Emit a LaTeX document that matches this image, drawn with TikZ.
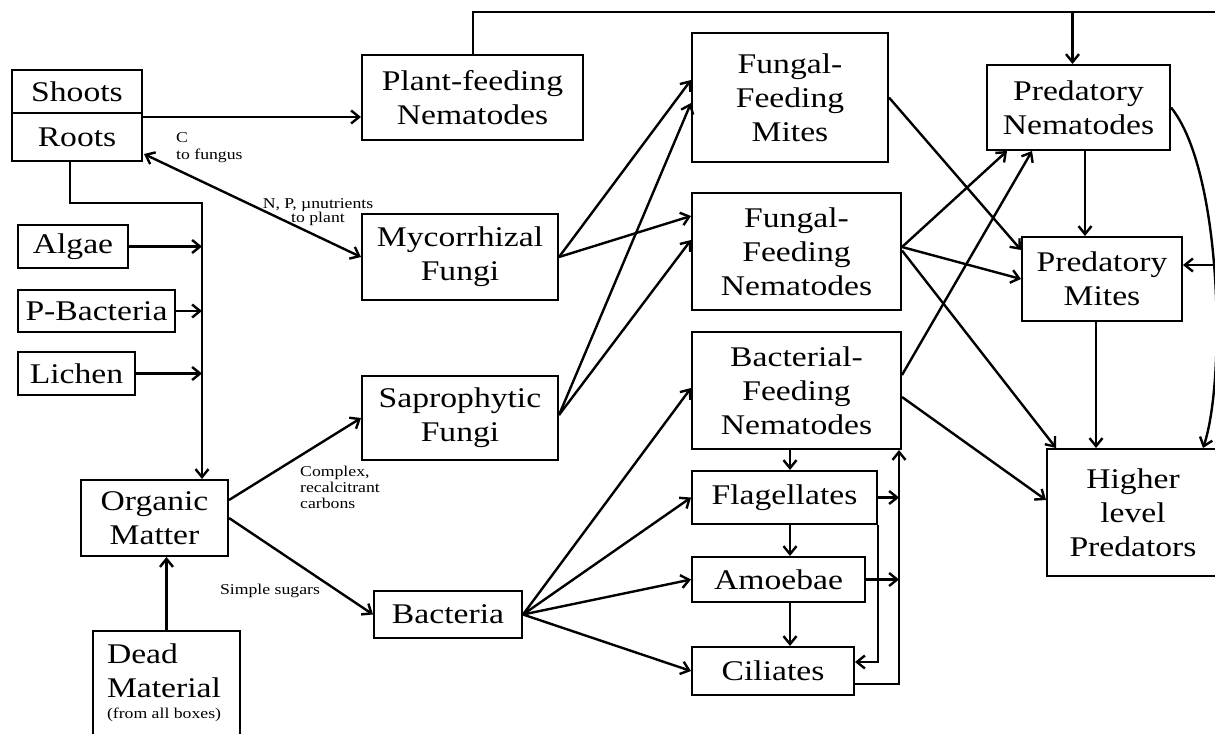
\documentclass[tikz,border=0pt]{standalone}
\usepackage{fontspec}
\setmainfont{Liberation Serif}[FakeStretch=1.18]
\usetikzlibrary{arrows.meta,calc}
\begin{document}
\begin{tikzpicture}[x=1pt,y=-1pt,
 box/.style={draw,line width=2pt,align=center,inner sep=0pt,font=\fontsize{28.5}{34}\selectfont},
 tip/.tip={Straight Barb[length=8pt,width=13pt,line width=2.4pt]},
 arr/.style={line width=2.4pt,-tip},
 arrb/.style={line width=2.4pt,tip-tip},
 ln/.style={line width=2pt},
 lab/.style={font=\fontsize{15}{16}\selectfont,align=left,inner sep=0pt}]

\useasboundingbox (0,0) rectangle (1215,734);
\fill[white] (0,0) rectangle (1215,734);

% boxes
\node[box,minimum width=130,minimum height=43] (shoots) at (77,91.5) {Shoots};
\node[box,minimum width=130,minimum height=48] (roots) at (77,137) {Roots};
\node[box,minimum width=221,minimum height=85] (pfn) at (472.5,97.5) {Plant-feeding\\Nematodes};
\node[box,minimum width=196,minimum height=129] (ffm) at (790,97.5) {Fungal-\\Feeding\\Mites};
\node[box,minimum width=209,minimum height=117] (ffn) at (796.5,251.5) {Fungal-\\Feeding\\Nematodes};
\node[box,minimum width=209,minimum height=117] (bfn) at (796.5,390.5) {Bacterial-\\Feeding\\Nematodes};
\node[box,minimum width=185,minimum height=53] (flag) at (784.5,497.5) {Flagellates};
\node[box,minimum width=173,minimum height=45] (amoe) at (778.5,579.5) {Amoebae};
\node[box,minimum width=162,minimum height=48] (cil) at (773,671) {Ciliates};
\node[box,minimum width=183,minimum height=85] (pn) at (1078.5,107.5) {Predatory\\Nematodes};
\node[box,minimum width=160,minimum height=84] (pm) at (1102,279) {Predatory\\Mites};
\node[box,minimum width=172,minimum height=127] (hlp) at (1133,512.5) {Higher\\level\\Predators};
\node[box,minimum width=196,minimum height=86] (myc) at (460,257) {Mycorrhizal\\Fungi};
\node[box,minimum width=196,minimum height=84] (sap) at (460,418) {Saprophytic\\Fungi};
\node[box,minimum width=148,minimum height=47] (bact) at (448,614.5) {Bacteria};
\node[box,minimum width=147,minimum height=76] (om) at (154.5,518) {Organic\\Matter};
\node[box,minimum width=110,minimum height=43] (algae) at (73,246.5) {Algae};
\node[box,minimum width=157,minimum height=42] (pbac) at (96.5,311) {P-Bacteria};
\node[box,minimum width=117,minimum height=43] (lichen) at (76.5,373.5) {Lichen};
\node[inner ysep=0pt,inner xsep=14pt,minimum height=103,text width=119,align=left,
  font=\fontsize{28.5}{34}\selectfont] (dead) at (166.5,682.5)
  {Dead\\Material\\[-13pt]\mbox{\fontsize{15}{16}\selectfont\spaceskip=0pt\xspaceskip=0pt(from all boxes)}};
\draw[line width=2pt] (dead.south west) -- (dead.north west) -- (dead.north east) -- (dead.south east);

% labels
\node[lab,anchor=north west,font=\fontsize{15}{17}\selectfont] (lc) at (176,132) {C\\to fungus};
\node[lab,align=center,font=\fontsize{15}{11}\selectfont] (lnp) at (318,212) {N, P, µnutrients\\to plant};
\node[lab,anchor=north west,font=\fontsize{15}{16}\selectfont] (lcx) at (300,466) {Complex,\\recalcitrant\\carbons};
\node[lab] (lss) at (270,591) {Simple sugars};

% coordinates
\coordinate (topy) at (0,12);
\coordinate (topR) at (1215,12);
\coordinate (bus) at (202,203);
\coordinate (colx) at (790,0);
\coordinate (obus) at (899,0);
\coordinate (edgeR) at (1215,265);
\coordinate (s1) at ($(roots.north east)+(0,5)$);

% top line
\draw[ln] (pfn.north) -- (pfn.north |- topy) -- (topR);
\draw[arr] ($(pn.north |- topy)+(-6,0)$) -- ($(pn.north)+(-6,0)$);

% left side
\draw[arr] (s1) -- (s1 -| pfn.west);
\draw[arr] ($(roots.south)+(-7,0)$) |- (bus) -- (bus |- om.north);
\draw[arr] (algae.east) -- (bus |- algae.east);
\draw[arr] (pbac.east) -- (bus |- pbac.east);
\draw[arr] (lichen.east) -- (bus |- lichen.east);
\draw[arrb] ($(roots.south east)+(1,-8)$) -- (myc.west);
\draw[arr] (dead.north) -- (dead.north |- om.south);
\draw[arr] ($(om.east)+(0,-18)$) -- (sap.west);
\draw[arr] (om.east) -- (bact.west);

% fungi
\draw[arr] (myc.east) -- ($(ffm.west)+(0,-17.5)$);
\draw[arr] (myc.east) -- ($(ffn.west)+(0,-35.5)$);
\draw[arr] ($(sap.east)+(0,-3)$) -- ($(ffm.west)+(0,5.5)$);
\draw[arr] ($(sap.east)+(0,-3)$) -- ($(ffn.west)+(0,-11.5)$);

% bacteria
\draw[arr] (bact.east) -- ($(bfn.west)+(0,-2.5)$);
\draw[arr] (bact.east) -- (flag.west);
\draw[arr] (bact.east) -- (amoe.west);
\draw[arr] (bact.east) -- (cil.west);

% protozoa column
\draw[arr] (bfn.south -| colx) -- (flag.north -| colx);
\draw[arr] (flag.south -| colx) -- (amoe.north -| colx);
\draw[arr] (amoe.south -| colx) -- (cil.north -| colx);
\draw[arr] (flag.south east) |- ($(cil.east)+(0,-9)$);
\draw[arr] ($(cil.east)+(0,13)$) -| (obus |- bfn.south);
\draw[arr] (flag.east) -- (obus |- flag.east);
\draw[arr] (amoe.east) -- (obus |- amoe.east);

% predators
\draw[arr] (ffm.east) -- ($(pm.west)+(0,-29)$);
\draw[arr] ($(ffn.east)+(0,-4.5)$) -- ($(pn.south west)+(21,0)$);
\draw[arr] ($(ffn.east)+(0,-4.5)$) -- (pm.west);
\draw[arr] ($(ffn.east)+(0,-1)$) -- ($(hlp.north west)+(10,0)$);
\draw[arr] ($(bfn.east)+(0,-15.5)$) -- ($(pn.south west)+(46,0)$);
\draw[arr] ($(bfn.east)+(0,6.5)$) -- ($(hlp.west)+(0,-12.5)$);
\draw[arr] ($(pn.south)+(6.5,0)$) -- ($(pm.north -| pn.south)+(6.5,0)$);
\draw[arr] ($(pm.south)+(-6,0)$) -- ($(hlp.north -| pm.south)+(-6,0)$);
\draw[arr] (pn.east) .. controls (1222,170) and (1226,380) .. ($(hlp.north east)+(-17,0)$);
\draw[arr] (edgeR) -- ($(pm.east)+(0,-14)$);
\end{tikzpicture}
\end{document}
